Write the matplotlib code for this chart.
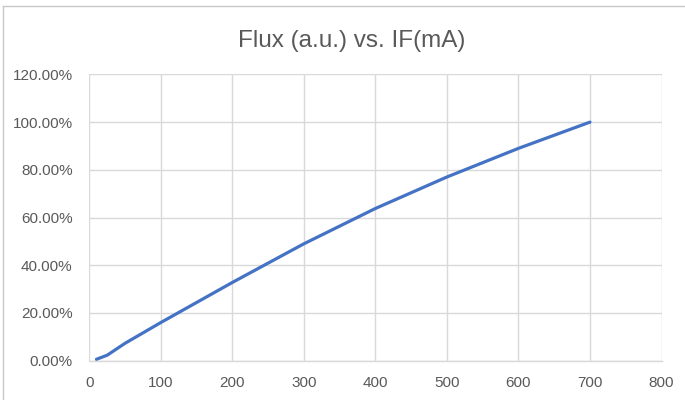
import matplotlib
matplotlib.use("Agg")
import matplotlib.pyplot as plt
from matplotlib.lines import Line2D
from matplotlib.ticker import FuncFormatter

if_ma = [10, 25, 50, 100, 200, 300, 400, 500, 600, 700]
flux_pct = [0.6, 2.3, 7.3, 16.0, 32.8, 49.0, 63.8, 77.0, 89.0, 100.0]

x_ticks = [0, 100, 200, 300, 400, 500, 600, 700, 800]
y_ticks = [0, 20, 40, 60, 80, 100, 120]
title = "Flux (a.u.) vs. IF(mA)"

W, H = 685, 400
plt.rcParams['font.family'] = ['Liberation Sans', 'DejaVu Sans']
fig = plt.figure(figsize=(W / 100, H / 100), dpi=100)
fig.patch.set_facecolor('white')

L, R, T, B = 89.3, 661.5, 74.4, 360.7
ax = fig.add_axes([L / W, 1 - B / H, (R - L) / W, (B - T) / H])

ax.plot(if_ma, flux_pct, color='#4472C4', linewidth=2.3, solid_capstyle='round',
        solid_joinstyle='round', zorder=3)

ax.set_xlim(x_ticks[0], x_ticks[-1])
ax.set_ylim(y_ticks[0], y_ticks[-1])
ax.set_xticks(x_ticks)
ax.set_yticks(y_ticks)
ax.yaxis.set_major_formatter(FuncFormatter(lambda v, p: f"{v:.2f}%"))
ax.grid(True, color='#d9d9d9', linewidth=1.0)
ax.set_axisbelow(True)
for s in ['top', 'right', 'left']:
    ax.spines[s].set_visible(False)
ax.spines['bottom'].set_color('#d9d9d9')
ax.spines['bottom'].set_linewidth(1.0)
ax.tick_params(axis='both', length=0, labelsize=11, labelcolor='#595959')
ax.tick_params(axis='y', pad=12)
ax.tick_params(axis='x', pad=11)

fig.text(351.7 / W, 1 - 46.7 / H, title, ha='center', va='baseline',
         fontsize=17.5, color='#595959')

# chart area border
fig.add_artist(Line2D([3 / W, 1.0], [1 - 6 / H, 1 - 6 / H], transform=fig.transFigure,
                      color='#c8c8c8', linewidth=1.0))
fig.add_artist(Line2D([3 / W, 3 / W], [0.0, 1 - 6 / H], transform=fig.transFigure,
                      color='#c8c8c8', linewidth=1.0))

fig.savefig('out.png', dpi=100)
